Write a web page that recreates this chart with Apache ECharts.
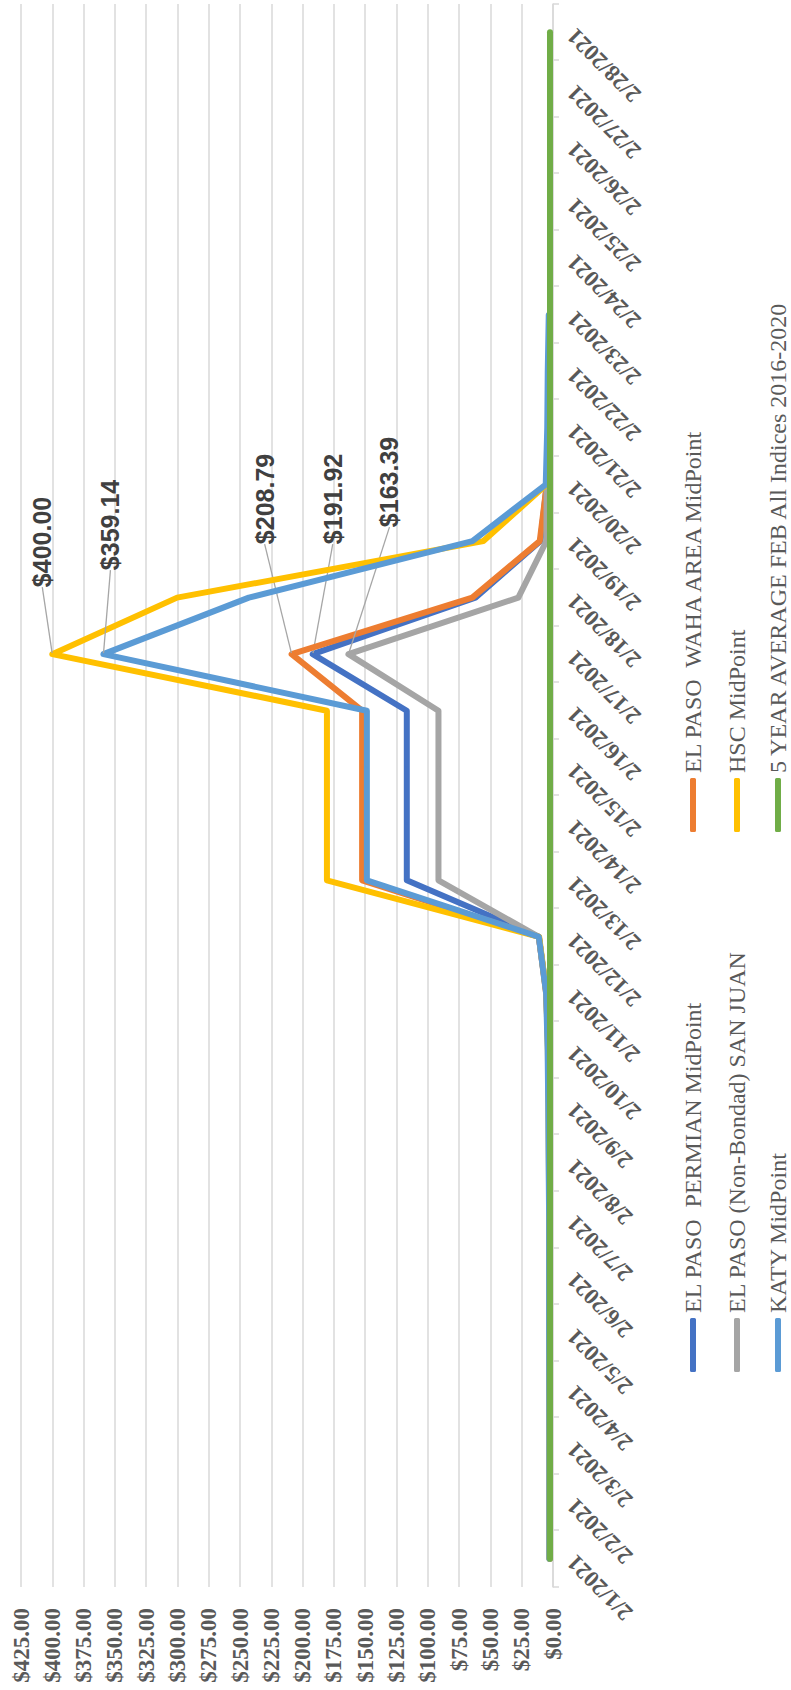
<!DOCTYPE html>
<html>
<head>
<meta charset="utf-8">
<script src="https://cdn.jsdelivr.net/npm/echarts@6/dist/echarts.min.js"></script>
<style>
  html, body { margin: 0; padding: 0; background: #ffffff; }
  body { width: 791px; height: 1690px; overflow: hidden; position: relative; }
  /* chart is drawn landscape, then the whole page is turned a quarter turn counter-clockwise */
  #chart { position: absolute; left: 0; top: 0; width: 1690px; height: 791px;
           transform-origin: 0 0; transform: translateY(1690px) rotate(-90deg); }
</style>
</head>
<body>
<div id="chart"></div>
<script>
// ---------------- data ----------------
const dates = ['2/1/2021','2/2/2021','2/3/2021','2/4/2021','2/5/2021','2/6/2021','2/7/2021',
  '2/8/2021','2/9/2021','2/10/2021','2/11/2021','2/12/2021','2/13/2021','2/14/2021',
  '2/15/2021','2/16/2021','2/17/2021','2/18/2021','2/19/2021','2/20/2021','2/21/2021',
  '2/22/2021','2/23/2021','2/24/2021','2/25/2021','2/26/2021','2/27/2021','2/28/2021'];

const seriesNames = ['EL PASO  PERMIAN MidPoint', 'EL PASO  WAHA AREA MidPoint',
  'EL PASO (Non-Bondad) SAN JUAN', 'HSC MidPoint', 'KATY MidPoint',
  '5 YEAR AVERAGE FEB All Indices 2016-2020'];

const permian = [2.6,2.6,2.6,2.7,2.7,2.7,2.7,2.9,3.1,3.6,5.2,11.3,116.8,116.8,116.8,116.8,191.92,62.0,10.0,5.0,null,null,null,null,null,null,null,null];
const waha    = [2.6,2.6,2.6,2.7,2.7,2.7,2.7,2.9,3.1,3.6,5.5,11.3,152.5,152.5,152.5,152.5,208.79,64.5,10.6,5.0,null,null,null,null,null,null,null,null];
const sanJuan = [2.8,2.8,2.8,2.9,2.9,2.9,2.9,3.2,3.4,3.9,5.3,11.3,91.5,91.5,91.5,91.5,163.39,27.7,5.3,5.0,null,null,null,null,null,null,null,null];
const hsc     = [2.8,2.8,2.8,2.9,3.0,3.0,3.0,3.3,3.6,4.1,5.3,11.0,180.6,180.6,180.6,180.6,400.00,300.3,55.6,5.2,null,null,null,null,null,null,null,null];
const katy    = [2.9,2.9,2.9,3.0,3.1,3.1,3.1,3.5,3.8,4.3,5.5,11.3,148.7,148.7,148.7,148.7,359.14,243.0,64.4,5.8,4.6,4.2,3.4,null,null,null,null,null];
const fiveYearAvg = [2.4,2.4,2.4,2.4,2.4,2.4,2.4,2.4,2.4,2.4,2.4,2.4,2.4,2.4,2.4,2.4,2.4,2.4,2.4,2.4,2.4,2.4,2.4,2.4,2.4,2.4,2.4,2.4];

const valueTicks = { min: 0, max: 425, interval: 25 };
const labeledIndex = 16; // 2/17/2021 peak labels
// ---------------------------------------

const colors = ['#4472C4', '#ED7D31', '#A5A5A5', '#FFC000', '#5B9BD5', '#70AD47'];
const allData = [permian, waha, sanJuan, hsc, katy, fiveYearAvg];
// label offsets (dx, dy) from the peak point, for the five labelled series
const labelOffsets = [[104, 20], [104, -27], [121, 41], [61, -10], [78, 7], null];

const chart = echarts.init(document.getElementById('chart'), null, { renderer: 'svg' });

const series = allData.map((arr, si) => {
  const data = arr.map((v, i) => {
    if (i === labeledIndex && labelOffsets[si]) {
      return { value: v, label: { show: true } };
    }
    return v;
  });
  const s = {
    name: seriesNames[si],
    type: 'line',
    data: data,
    symbol: 'circle',
    symbolSize: 2,
    showSymbol: true,
    connectNulls: false,
    z: 2 + si,
    lineStyle: { color: colors[si], width: 6, cap: 'round', join: 'round' },
    itemStyle: { color: colors[si], borderWidth: 0 },
    emphasis: { disabled: true },
    animation: false,
    label: {
      show: false,
      position: 'right',
      distance: 5,
      formatter: p => '$' + Number(p.value).toFixed(2),
      fontFamily: 'Liberation Sans',
      fontWeight: 'bold',
      fontSize: 25,
      color: '#404040',
      align: 'left',
      verticalAlign: 'middle'
    }
  };
  if (labelOffsets[si]) {
    s.labelLayout = { dx: labelOffsets[si][0], dy: labelOffsets[si][1] };
    s.labelLine = { show: true, lineStyle: { color: '#A6A6A6', width: 1.3 } };
  }
  return s;
});

const legendBase = {
  orient: 'horizontal', padding: 0, itemWidth: 54, itemHeight: 6, icon: 'roundRect',
  itemGap: 5, selectedMode: false,
  textStyle: { fontFamily: 'Liberation Serif', fontSize: 24, color: '#595959', padding: [0, 0, 0, 0] }
};
const legendSpots = [[318, 681], [858, 681], [318, 725], [858, 725], [318, 766], [858, 766]];
const legends = seriesNames.map((n, i) => Object.assign({}, legendBase, {
  data: [n], left: legendSpots[i][0], top: legendSpots[i][1]
}));

chart.setOption({
  animation: false,
  backgroundColor: '#ffffff',
  grid: { left: 103, right: 4, top: 21, bottom: 238, containLabel: false },
  legend: legends,
  xAxis: {
    type: 'category',
    data: dates,
    boundaryGap: true,
    axisLine: { show: true, lineStyle: { color: '#D9D9D9', width: 1.5 } },
    axisTick: { show: true, length: 6, lineStyle: { color: '#D9D9D9', width: 1.5 } },
    axisLabel: {
      interval: 0, rotate: 45, margin: 18,
      fontFamily: 'Liberation Serif', fontWeight: 'bold', fontSize: 23, color: '#595959'
    },
    splitLine: { show: false }
  },
  yAxis: {
    type: 'value',
    min: valueTicks.min, max: valueTicks.max, interval: valueTicks.interval,
    axisLine: { show: false },
    axisTick: { show: false },
    axisLabel: {
      margin: 21,
      formatter: v => '$' + v.toFixed(2),
      fontFamily: 'Liberation Serif', fontWeight: 'bold', fontSize: 23, color: '#595959'
    },
    splitLine: { show: true, lineStyle: { color: '#D9D9D9', width: 1.5 } }
  },
  series: series
});
</script>
</body>
</html>
